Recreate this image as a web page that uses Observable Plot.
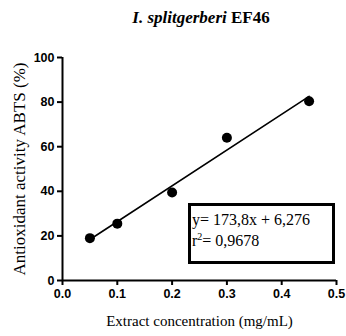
<!DOCTYPE html>
<html><head><meta charset="utf-8">
<script src="https://cdn.jsdelivr.net/npm/d3@7"></script>
<script src="https://cdn.jsdelivr.net/npm/@observablehq/plot@0.6"></script>
<style>
body{margin:0;background:#fff;}
#wrap{position:relative;width:346px;height:336px;}
#title{position:absolute;left:0;top:8px;width:346px;padding-left:56px;box-sizing:border-box;text-align:center;font:bold 17px "Liberation Serif","Times New Roman",serif;color:#000;}
#title i{font-weight:bold;}
#box{position:absolute;left:188px;top:203px;width:147px;height:61px;box-sizing:border-box;border:3px solid #000;font:16px "Liberation Serif","Times New Roman",serif;padding:3px 0 0 1px;line-height:21px;color:#000;}
</style></head>
<body><div id="wrap"><div id="title"><i>I. splitgerberi</i> EF46</div></div>
<script>
const concentration = [0.05, 0.1, 0.2, 0.3, 0.45];
const activity = [19, 25.5, 39.5, 64, 80.4];
const xTicks = [0, 0.1, 0.2, 0.3, 0.4, 0.5];
const yTicks = [0, 20, 40, 60, 80, 100];
const xLabel = "Extract concentration (mg/mL)";
const yLabel = "Antioxidant activity ABTS (%)";
const equation = "y= 173,8x + 6,276";
const r2 = "0,9678";

const data = concentration.map((c, i) => ({c, a: activity[i]}));
const tickFont = {fontFamily: "Liberation Sans, Arial, sans-serif", fontWeight: "bold", fontSize: 12.5};
const labelFont = {fontFamily: "Liberation Serif, Times New Roman, serif", fontSize: 15};

const chart = Plot.plot({
  width: 346, height: 336,
  marginLeft: 62, marginRight: 10, marginTop: 57, marginBottom: 56,
  style: {background: "#fff", color: "#000"},
  x: {domain: [0, 0.5]},
  y: {domain: [0, 100]},
  marks: [
    Plot.axisX({ticks: xTicks, tickFormat: d3.format(".1f"), label: null, tickSize: 5, tickPadding: 4, strokeWidth: 2, ...tickFont}),
    Plot.axisX({ticks: [], label: xLabel, labelAnchor: "center", labelOffset: 45, labelArrow: "none", tickSize: 0, ...labelFont}),
    Plot.axisY({ticks: yTicks, label: null, tickSize: 5, tickPadding: 3, strokeWidth: 2, ...tickFont}),
    Plot.axisY({ticks: [], label: yLabel, labelAnchor: "center", labelOffset: 50, labelArrow: "none", tickSize: 0, ...labelFont, fontSize: 17}),
    Plot.ruleY([0], {strokeWidth: 2}),
    Plot.ruleX([0], {strokeWidth: 2}),
    Plot.linearRegressionY(data, {x: "c", y: "a", ci: 0, stroke: "#000", strokeWidth: 1.6}),
    Plot.dot(data, {x: "c", y: "a", r: 5, fill: "#000", stroke: "none"})
  ]
});
document.getElementById("wrap").appendChild(chart);
const box = document.createElement("div");
box.id = "box";
box.innerHTML = equation + "<br>r<sup style='font-size:10px;line-height:0'>2</sup>= " + r2;
document.getElementById("wrap").appendChild(box);
</script></body></html>
